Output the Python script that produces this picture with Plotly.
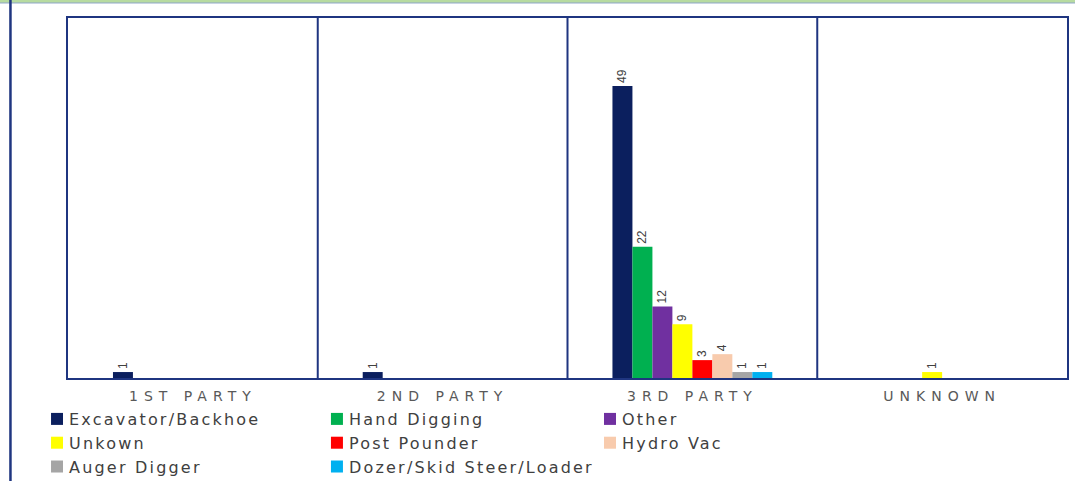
import plotly.graph_objects as go

categories = ["1ST PARTY", "2ND PARTY", "3RD PARTY", "UNKNOWN"]

series_names = ["Excavator/Backhoe", "Hand Digging", "Other", "Unkown",
                "Post Pounder", "Hydro Vac", "Auger Digger", "Dozer/Skid Steer/Loader"]
excavator = [1, 1, 49, 0]
hand_digging = [0, 0, 22, 0]
other = [0, 0, 12, 0]
unkown = [0, 0, 9, 1]
post_pounder = [0, 0, 3, 0]
hydro_vac = [0, 0, 4, 0]
auger_digger = [0, 0, 1, 0]
dozer = [0, 0, 1, 0]
series_values = [excavator, hand_digging, other, unkown, post_pounder, hydro_vac, auger_digger, dozer]
colors = ["#0B1F5E", "#00B050", "#7030A0", "#FFFF00", "#FF0000", "#F8CBAD", "#A5A5A5", "#00B0F0"]
legend_of = ["legend", "legend2", "legend3", "legend", "legend2", "legend3", "legend", "legend2"]

fig = go.Figure()
for name, vals, col, lg in zip(series_names, series_values, colors, legend_of):
    fig.add_trace(go.Bar(
        x=categories, y=vals, name=name, marker=dict(color=col, line=dict(width=0)),
        text=[str(v) if v else "" for v in vals], textposition="outside", textangle=-90,
        textfont=dict(family="Liberation Sans", size=12, color="#404040"),
        cliponaxis=False, legend=lg,
    ))

navy = "#1F3580"
for xb in [0.5, 1.5, 2.5]:
    fig.add_shape(type="line", xref="x", yref="paper", x0=xb, x1=xb, y0=0, y1=1,
                  line=dict(color=navy, width=2))

# page decoration: green strip on top, frame line on left
fig.add_shape(type="rect", xref="paper", yref="paper", x0=-0.08, x1=1.01, y0=1.0417, y1=1.06,
              fillcolor="#B7DBA0", line=dict(width=0), layer="below")
fig.add_shape(type="line", xref="paper", yref="paper", x0=-0.08, x1=1.01, y0=1.0417, y1=1.0417,
              line=dict(color="#8FA6C8", width=1))
fig.add_shape(type="line", xref="paper", yref="paper", x0=-0.0576, x1=-0.0576, y0=-0.29, y1=1.05,
              line=dict(color=navy, width=2.5))

legend_common = dict(orientation="v", xanchor="left", yanchor="top", y=-0.0667,
                     font=dict(family="DejaVu Sans", size=16, color="#404040"),
                     bgcolor="rgba(0,0,0,0)", tracegroupgap=0, itemclick=False)

fig.update_layout(
    width=1075, height=481,
    margin=dict(l=68, r=8, t=18, b=103, autoexpand=False),
    paper_bgcolor="white", plot_bgcolor="white",
    barmode="group", bargap=0.36, bargroupgap=0,
    showlegend=True,
    legend=dict(x=-0.031, **legend_common),
    legend2=dict(x=0.2492, **legend_common),
    legend3=dict(x=0.5225, **legend_common),
    xaxis=dict(range=[-0.5, 3.5], tickvals=categories,
               showline=True, mirror=True, linecolor=navy, linewidth=2,
               showgrid=False, ticks="", ticklabelstandoff=4,
               tickfont=dict(family="DejaVu Sans", size=14, color="#595959")),
    yaxis=dict(range=[0, 60.4], showline=True, mirror=True, linecolor=navy, linewidth=2,
               showgrid=False, showticklabels=False, ticks="", zeroline=False),
)

post = ("var s=document.createElement('style');"
        "s.textContent='html,body{margin:0 !important;padding:0 !important}"
        " .infolayer text{letter-spacing:2.2px !important; transform:translateX(-8px)}"
        " .scrollbox{clip-path:none !important}"
        " .xtick text{letter-spacing:6px !important}';"
        "document.head.appendChild(s);")
fig.write_html("out.html", post_script=post, config={"displayModeBar": False})
